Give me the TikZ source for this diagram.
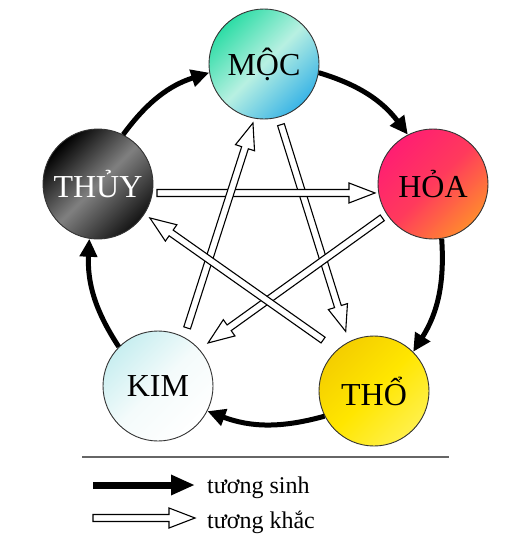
\documentclass[tikz,border=0pt]{standalone}
\usepackage{fontspec}
\setmainfont{Liberation Serif}
\usetikzlibrary{calc,arrows.meta}
\definecolor{mocA}{HTML}{2EDDA6}
\definecolor{mocB}{HTML}{B8F0E2}
\definecolor{mocC}{HTML}{3AB4E6}
\definecolor{hoaA}{HTML}{FF1E72}
\definecolor{hoaB}{HTML}{FF3A5C}
\definecolor{hoaC}{HTML}{FF8A2E}
\definecolor{thoA}{HTML}{F4CE00}
\definecolor{thoB}{HTML}{FFE600}
\definecolor{thoC}{HTML}{FFF04A}
\definecolor{kimA}{HTML}{C8EEF0}
\definecolor{kimB}{HTML}{F4FBFB}
\definecolor{kimC}{HTML}{FFFFFF}
\tikzset{
  elem/.style={circle, draw=black!80, line width=0.9pt, minimum size=110pt,
    inner sep=0pt, font=\fontsize{32}{36}\selectfont},
  sinh/.style={line width=5pt, -{Triangle[length=18pt,width=17pt]}},
  khac/.style={fill=white, draw=black, line width=1.1pt, line join=miter},
  legendtext/.style={font=\fontsize{24}{28}\selectfont, anchor=base west, inner sep=0pt},
  rulestyle/.style={draw=black!60, line width=1.5pt}
}
\newcommand\khacarrow[2]{%
  \coordinate (kh) at ($(#2)!26pt!(#1)$);
  \path[khac] ($(#1)!3.5pt!90:(#2)$) -- ($(kh)!3.5pt!-90:(#1)$) -- ($(kh)!10pt!-90:(#1)$)
    -- (#2) -- ($(kh)!10pt!90:(#1)$) -- ($(kh)!3.5pt!90:(#1)$) -- ($(#1)!3.5pt!-90:(#2)$) -- cycle;
}
\begin{document}
\begin{tikzpicture}[x=1pt,y=1pt]
\useasboundingbox (0,0) rectangle (515,-539);
% elements
\node[elem, left color=mocA, right color=mocC, middle color=mocB, shading angle=45] (moc) at (264,-64) {MỘC};
\node[elem, left color=hoaA, right color=hoaC, middle color=hoaB, shading angle=45] (hoa) at (433,-184) {HỎA};
\node[elem, left color=thoA, right color=thoC, middle color=thoB, shading angle=45] (tho) at (374,-391) {THỔ};
\node[elem, left color=kimA, right color=kimC, middle color=kimB, shading angle=45] (kim) at (158,-386) {KIM};
\node[elem, left color=black, right color=black!92, middle color=black!50, shading angle=45, text=white] (thuy) at (98,-184) {THỦY};
% tuong sinh (cycle)
\draw[sinh] (moc.-9) to[bend left=18] (hoa.117);
\draw[sinh] (hoa.-81) to[bend left=18] (tho.45);
\draw[sinh] (tho.-153) to[bend left=18] (kim.-27);
\draw[sinh] (kim.135) to[bend left=18] (thuy.-99);
\draw[sinh] (thuy.63) to[bend left=18] (moc.189);
% tuong khac (star)
\coordinate (mt1) at ($(moc.center)+(-74.4:63)$);
\coordinate (mt2) at ($(tho.center)+(115.4:66)$);
\coordinate (th1) at ($(thuy.center)+(-8.7:59.7)$);
\coordinate (th2) at ($(hoa.center)+(188.8:58.7)$);
\coordinate (km1) at ($(kim.center)+(63.4:65)$);
\coordinate (km2) at ($(moc.center)+(-100.6:60)$);
\coordinate (hk1) at ($(hoa.center)+(213.7:61)$);
\coordinate (hk2) at ($(kim.center)+(40.7:66)$);
\coordinate (tt1) at ($(tho.center)+(135:72)$);
\coordinate (tt2) at ($(thuy.center)+(-33.2:62)$);
\khacarrow{mt1}{mt2}
\khacarrow{th1}{th2}
\khacarrow{km1}{km2}
\khacarrow{hk1}{hk2}
\khacarrow{tt1}{tt2}
% legend
\coordinate (r1) at (82,-457);
\coordinate (r2) at (449,-457);
\draw[rulestyle] (r1) -- (r2);
\coordinate (s1) at (93,-485);
\coordinate (s2) at (195,-485);
\draw[line width=7pt, -{Triangle[length=24pt,width=19pt]}] (s1) -- (s2);
\coordinate (k1) at (93,-518);
\coordinate (k2) at (195,-518);
\khacarrow{k1}{k2}
\node[legendtext] (t1) at (207,-493) {tương sinh};
\node[legendtext] (t2) at (207,-528) {tương khắc};
\end{tikzpicture}
\end{document}
